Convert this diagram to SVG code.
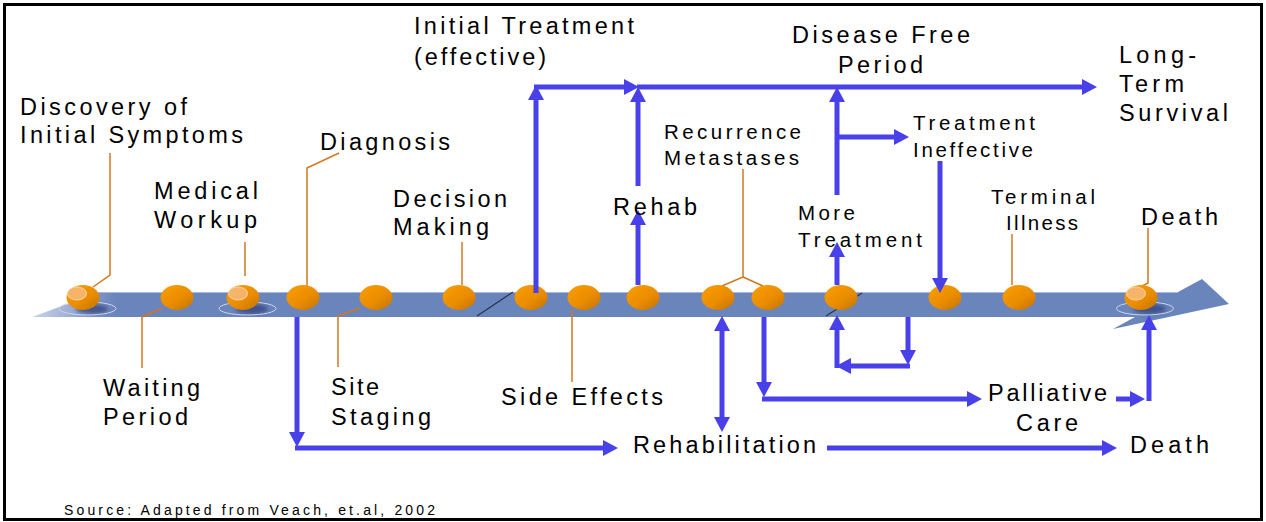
<svg xmlns="http://www.w3.org/2000/svg" width="1266" height="522" viewBox="0 0 1266 522">
<style>
.t{font-family:"Liberation Sans",Arial,sans-serif;font-size:23.5px;fill:#000}
.s{font-size:20.5px}
.src{font-size:14px}
.lead{fill:none;stroke:#d2771f;stroke-width:1.5}
.arr{fill:none;stroke:#4840e8;stroke-width:5}
.ae{marker-end:url(#ah)}
.ball{fill:url(#bg)}
</style>
<defs>
<linearGradient id="bandg" gradientUnits="userSpaceOnUse" x1="32" y1="0" x2="115" y2="0">
<stop offset="0" stop-color="#c9d2ea"/>
<stop offset="1" stop-color="#6a84bc"/>
</linearGradient>
<linearGradient id="bg" x1="0.15" y1="0.1" x2="0.9" y2="0.95">
<stop offset="0" stop-color="#f79b00"/>
<stop offset="0.55" stop-color="#ea8c00"/>
<stop offset="1" stop-color="#c87700"/>
</linearGradient>
<filter id="blur" x="-50%" y="-50%" width="200%" height="200%"><feGaussianBlur stdDeviation="2"/></filter>
<marker id="ah" markerUnits="userSpaceOnUse" markerWidth="16" markerHeight="16" refX="5" refY="8" orient="auto-start-reverse" viewBox="0 0 16 16">
<path d="M0,0 L15,8 L0,16 Z" fill="#4840e8"/>
</marker>
</defs>
<rect x="4.5" y="4.5" width="1257" height="515" fill="#fff" stroke="#000" stroke-width="3"/>

<g id="timeline">
<path d="M32,317 L100,292 L1178,292 L1202,279 L1229,304 L1113,329 L1135,317 Z" fill="url(#bandg)"/>
<line x1="100" y1="292.5" x2="1178" y2="292.5" stroke="#a9b8dc" stroke-width="1"/>
<line x1="477" y1="316" x2="513" y2="292" stroke="#243558" stroke-width="1.2"/>
<line x1="826" y1="316" x2="862" y2="293" stroke="#243558" stroke-width="1.2"/>
</g>

<g id="leaders">
<path class="lead" d="M110,153 V275 L93,287"/>
<path class="lead" d="M245,242 V276"/>
<path class="lead" d="M339,153 L307,168 V286"/>
<path class="lead" d="M462,242 V285"/>
<path class="lead" d="M162,308 L142,317 V368"/>
<path class="lead" d="M360,308 L338,316 V367"/>
<path class="lead" d="M572,309 V382"/>
<path class="lead" d="M743,169 V277 L722,286 M743,277 L763,286"/>
<path class="lead" d="M1012,234 V285"/>
<path class="lead" d="M1148,228 V283 L1142,286"/>
</g>

<g id="balls">
<g id="ball-discovery">
<ellipse cx="92" cy="309" rx="16" ry="5" fill="#2f3f78" opacity="0.75" filter="url(#blur)"/>
<ellipse cx="87.5" cy="308.5" rx="28.5" ry="6.5" fill="none" stroke="#cdd5ec" stroke-width="1"/>
<ellipse class="ball" cx="83" cy="297.5" rx="16.5" ry="12.5"/>
<ellipse cx="77" cy="293.5" rx="9.5" ry="6.5" fill="#f6b46a" stroke="#fbd7a6" stroke-width="1"/>
</g>
<ellipse id="ball-waiting" class="ball" cx="177" cy="297.5" rx="16.5" ry="12.5"/>
<g id="ball-workup">
<ellipse cx="252" cy="309" rx="16" ry="5" fill="#2f3f78" opacity="0.75" filter="url(#blur)"/>
<ellipse cx="247.5" cy="308.5" rx="28.5" ry="6.5" fill="none" stroke="#cdd5ec" stroke-width="1"/>
<ellipse class="ball" cx="243" cy="297.5" rx="16.5" ry="12.5"/>
<ellipse cx="238" cy="293.5" rx="9.5" ry="6.5" fill="#f6b46a" stroke="#fbd7a6" stroke-width="1"/>
</g>
<ellipse id="ball-diagnosis" class="ball" cx="303" cy="297.5" rx="16.5" ry="12.5"/>
<ellipse id="ball-staging" class="ball" cx="376" cy="297.5" rx="16.5" ry="12.5"/>
<ellipse id="ball-decision" class="ball" cx="459" cy="297.5" rx="16.5" ry="12.5"/>
<ellipse id="ball-treatment" class="ball" cx="531" cy="297.5" rx="16.5" ry="12.5"/>
<ellipse id="ball-side" class="ball" cx="584" cy="297.5" rx="16.5" ry="12.5"/>
<ellipse id="ball-rehab" class="ball" cx="643" cy="297.5" rx="16.5" ry="12.5"/>
<ellipse id="ball-rec1" class="ball" cx="718" cy="297.5" rx="16.5" ry="12.5"/>
<ellipse id="ball-rec2" class="ball" cx="768" cy="297.5" rx="16.5" ry="12.5"/>
<ellipse id="ball-more" class="ball" cx="841" cy="297.5" rx="16.5" ry="12.5"/>
<ellipse id="ball-ineff" class="ball" cx="945" cy="297.5" rx="16.5" ry="12.5"/>
<ellipse id="ball-terminal" class="ball" cx="1019" cy="297.5" rx="16.5" ry="12.5"/>
<g id="ball-death">
<ellipse cx="1150" cy="309" rx="16" ry="5" fill="#2f3f78" opacity="0.75" filter="url(#blur)"/>
<ellipse cx="1145" cy="308.5" rx="28.5" ry="6.5" fill="none" stroke="#cdd5ec" stroke-width="1"/>
<ellipse class="ball" cx="1141" cy="297.5" rx="16.5" ry="12.5"/>
<ellipse cx="1136" cy="293.5" rx="9.5" ry="6.5" fill="#f6b46a" stroke="#fbd7a6" stroke-width="1"/>
</g>
</g>

<g id="connectors">
<path class="arr ae" d="M536,293 V95"/>
<path class="arr ae" d="M534,87 H629"/>
<path class="arr ae" d="M637,87 H1087"/>
<path class="arr ae" d="M638,186 V97"/>
<path class="arr ae" d="M638,285 V220"/>
<path class="arr ae" d="M837,285 V252"/>
<path class="arr ae" d="M837,195 V97"/>
<path class="arr ae" d="M837,137 H899"/>
<path class="arr ae" d="M940,161 V283"/>
<path class="arr ae" d="M297,317 V437"/>
<path class="arr ae" d="M295,448 H608"/>
<path class="arr ae" d="M722,326 V422" marker-start="url(#ah)"/>
<path class="arr ae" d="M764,317 V387"/>
<path class="arr ae" d="M762,399 H972"/>
<path class="arr ae" d="M908,317 V355"/>
<path class="arr ae" d="M910,366 H846"/>
<path class="arr ae" d="M837,368 V325"/>
<path class="arr ae" d="M1116,399 H1135"/>
<path class="arr ae" d="M1149,401 V325"/>
<path class="arr ae" d="M827,448 H1107"/>
</g>

<g id="labels">
<text class="t" x="414" y="34" textLength="220" lengthAdjust="spacing">Initial Treatment</text>
<text class="t" x="414" y="65" textLength="132" lengthAdjust="spacing">(effective)</text>
<text class="t" x="792" y="43" textLength="178" lengthAdjust="spacing">Disease Free</text>
<text class="t" x="838" y="72.5" textLength="85" lengthAdjust="spacing">Period</text>
<text class="t" x="1119" y="63" textLength="77" lengthAdjust="spacing">Long-</text>
<text class="t" x="1119" y="92" textLength="65" lengthAdjust="spacing">Term</text>
<text class="t" x="1119" y="121" textLength="109" lengthAdjust="spacing">Survival</text>
<text class="t" x="20" y="115" textLength="167" lengthAdjust="spacing">Discovery of</text>
<text class="t" x="20" y="143" textLength="223" lengthAdjust="spacing">Initial Symptoms</text>
<text class="t" x="320" y="150" textLength="130" lengthAdjust="spacing">Diagnosis</text>
<text class="t" x="154" y="199" textLength="104" lengthAdjust="spacing">Medical</text>
<text class="t" x="154" y="228" textLength="103" lengthAdjust="spacing">Workup</text>
<text class="t" x="393" y="207" textLength="114" lengthAdjust="spacing">Decision</text>
<text class="t" x="393" y="235" textLength="96" lengthAdjust="spacing">Making</text>
<text class="t" x="613" y="215" textLength="84" lengthAdjust="spacing">Rehab</text>
<text class="t" x="1141" y="225" textLength="77" lengthAdjust="spacing">Death</text>
<text class="t" x="103" y="396" textLength="97" lengthAdjust="spacing">Waiting</text>
<text class="t" x="103" y="425" textLength="85" lengthAdjust="spacing">Period</text>
<text class="t" x="331" y="395" textLength="48" lengthAdjust="spacing">Site</text>
<text class="t" x="331" y="425" textLength="100" lengthAdjust="spacing">Staging</text>
<text class="t" x="501" y="405" textLength="162" lengthAdjust="spacing">Side Effects</text>
<text class="t" x="988" y="400.5" textLength="119" lengthAdjust="spacing">Palliative</text>
<text class="t" x="1016" y="430.5" textLength="62" lengthAdjust="spacing">Care</text>
<text class="t" x="633" y="453" textLength="183" lengthAdjust="spacing">Rehabilitation</text>
<text class="t" x="1130" y="453" textLength="79" lengthAdjust="spacing">Death</text>
<text class="t s" x="664" y="139" textLength="137" lengthAdjust="spacing">Recurrence</text>
<text class="t s" x="664" y="165" textLength="135" lengthAdjust="spacing">Metastases</text>
<text class="t s" x="913" y="130" textLength="122" lengthAdjust="spacing">Treatment</text>
<text class="t s" x="913" y="157" textLength="120" lengthAdjust="spacing">Ineffective</text>
<text class="t s" x="798" y="220" textLength="57" lengthAdjust="spacing">More</text>
<text class="t s" x="798" y="246.5" textLength="124" lengthAdjust="spacing">Treatment</text>
<text class="t s" x="991" y="204" textLength="104" lengthAdjust="spacing">Terminal</text>
<text class="t s" x="1006" y="230" textLength="72" lengthAdjust="spacing">Illness</text>
<text class="t src" x="64" y="515" textLength="371" lengthAdjust="spacing">Source: Adapted from Veach, et.al, 2002</text>
</g>
</svg>
